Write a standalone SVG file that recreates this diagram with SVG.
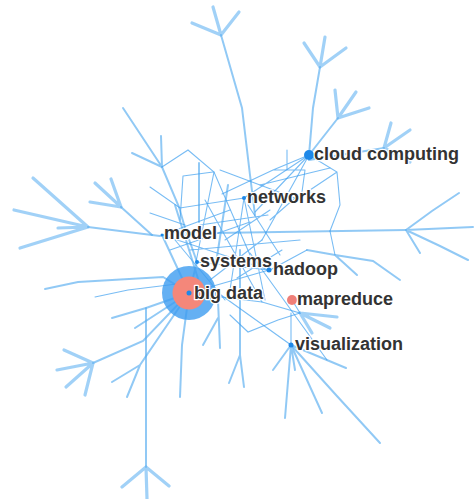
<svg xmlns="http://www.w3.org/2000/svg" width="474" height="499" viewBox="0 0 474 499">
<style>
.e{stroke:#3f9ff0;stroke-width:1.1;fill:none;stroke-opacity:.7;stroke-linecap:round}
.m{stroke:#56acf0;stroke-width:2;fill:none;stroke-opacity:.65;stroke-linecap:round}
.t{stroke:#62b2f2;stroke-width:3.2;fill:none;stroke-opacity:.6;stroke-linecap:round}
.d{fill:#1e88e8}
.lb{font-family:"Liberation Sans",Arial,sans-serif;font-weight:bold;font-size:18px;fill:#333;stroke:#fff;stroke-width:2.5;paint-order:stroke;stroke-linejoin:round}
</style>
<rect width="474" height="499" fill="#fff"/>
<g id="connectors">
<path class="t" d="M221,35 L213,7 M221,35 L192,23 M221,35 L239,12"/>
<path class="m" d="M221,35 L242,108 L250,175 L255,215"/>
<path class="t" d="M320,67 L304,43 M320,67 L325,37 M320,67 L346,48"/>
<path class="m" d="M320,67 L313,108 L309,155"/>
<path class="t" d="M338,118 L335,90 M338,118 L356,92 M338,118 L369,108"/>
<path class="m" d="M338,118 L309,155"/>
<path class="t" d="M384,148 L391,123 M384,148 L410,130 M384,148 L410,162"/>
<path class="m" d="M309,160 L384,148"/>
<path class="m" d="M406,230 L432,211 L459,193 M406,230 L473,227 M406,230 L440,246 L468,260 M406,230 L420,253"/>
<path class="m" d="M406,230 L342,231 L215,233"/>
<path class="e" d="M309,155 L337,172 L340,205 L330,231 M337,172 L310,190"/>
<path class="m" d="M307,250 L335,255 L373,261 L400,280 M335,255 L357,275"/>
<path class="e" d="M335,255 L330,231"/>
<path class="e" d="M309,155 L273,170 L222,194 M273,170 L305,170 M287,150 L287,170 M305,170 L302,192 L270,220 M309,155 L255,212 M309,155 L297,177 L262,240"/>
<path class="e" d="M244,198 L309,155 M260,185 L330,168"/>
<path class="m" d="M162,167 L123,108 M162,167 L132,153 M162,167 L161,136"/>
<path class="e" d="M162,167 L188,150 L214,172 L250,255"/>
<path class="m" d="M162,167 L179,207 L185,228 L197,262"/>
<path class="m" d="M199,163 L199,222"/>
<path class="e" d="M183,176 L213,172 M183,176 L180,220"/>
<path class="t" d="M88,227 L14,210 M88,227 L33,178 M88,227 L20,248 M88,227 L58,228"/>
<path class="m" d="M88,227 L160,236"/>
<path class="t" d="M121,207 L95,183 M121,207 L111,179 M121,207 L90,202"/>
<path class="m" d="M121,207 L152,235"/>
<path class="e" d="M150,187 L180,208 L244,198 M150,213 L185,225"/>
<path class="e" d="M162,235 L269,270 M190,250 L300,240 M244,198 L230,290 M197,262 L269,270 M189,293 L269,270 M220,170 L300,200 M200,225 L268,215 M270,270 L307,250 M225,240 L270,210 M244,198 L265,300 M248,205 L280,255 M162,235 L230,210 M170,250 L250,222 M210,280 L262,240 M237,278 L282,250 M214,172 L196,262 M175,240 L225,300 M205,200 L262,302"/>
<path class="m" d="M162,235 L189,293 M197,262 L189,293 M228,185 L215,270 M175,205 L200,285"/>
<path class="m" d="M189,293 L146,308 L112,318"/>
<path class="m" d="M146,308 L146,467"/>
<path class="t" d="M146,467 L122,487 M146,467 L147,499 M146,467 L169,486"/>
<path class="m" d="M189,293 L143,341 L93,363"/>
<path class="t" d="M93,363 L64,350 M93,363 L57,370 M93,363 L66,387 M93,363 L85,395"/>
<path class="m" d="M189,293 L140,365 L127,397 M140,365 L112,382"/>
<path class="m" d="M189,293 L182,345 L180,397"/>
<path class="m" d="M189,293 L135,328"/>
<path class="m" d="M189,293 L163,277 L78,282 L45,289"/>
<path class="e" d="M185,283 L128,290 L95,297"/>
<path class="m" d="M218,300 L220,348 M218,318 L203,345"/>
<path class="m" d="M240,250 L240,355 L244,387 M240,355 L229,383"/>
<path class="t" d="M300,313 L337,317 M300,313 L330,328 M300,313 L312,333"/>
<path class="e" d="M262,302 L300,313 L292,300 M189,293 L262,302"/>
<path class="e" d="M230,315 L248,332 L278,320 L300,313"/>
<path class="m" d="M291,345 L273,370 M291,345 L295,370 M291,345 L285,418 M291,345 L322,413 M291,345 L346,368"/>
<path class="m" d="M291,345 L336,395 L380,443"/>
<path class="e" d="M291,345 L291,313 M250,253 L327,360 M214,290 L291,345"/>
</g>
<g id="big-data"><circle cx="189" cy="293" r="27" fill="#3d9cf0" fill-opacity=".8"/><circle cx="189" cy="293" r="16.5" fill="#f4877a"/><circle class="d" cx="189" cy="293" r="2.5"/><text class="lb" x="194" y="299">big data</text></g>
<g id="systems"><circle class="d" cx="197" cy="262" r="2"/><text class="lb" x="200" y="267">systems</text></g>
<g id="model"><circle class="d" cx="162" cy="235" r="1.5"/><text class="lb" x="164" y="239">model</text></g>
<g id="networks"><circle class="d" cx="244" cy="198" r="2"/><text class="lb" x="247" y="203">networks</text></g>
<g id="cloud-computing"><circle class="d" cx="309" cy="155" r="5"/><text class="lb" x="314" y="160">cloud computing</text></g>
<g id="hadoop"><circle class="d" cx="269" cy="270" r="2.5"/><text class="lb" x="273" y="275">hadoop</text></g>
<g id="mapreduce"><circle cx="292" cy="300" r="5" fill="#ef7f78"/><text class="lb" x="297" y="305">mapreduce</text></g>
<g id="visualization"><circle class="d" cx="291" cy="345" r="2.5"/><text class="lb" x="295" y="350">visualization</text></g>
</svg>
